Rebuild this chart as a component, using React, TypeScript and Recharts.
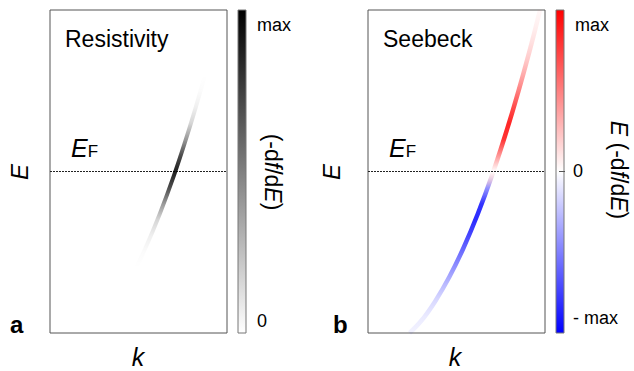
import { Bar, BarChart, Line, LineChart, ReferenceArea, ReferenceLine, XAxis, YAxis } from "recharts";

// band dispersion (k across the box 0..1, E from -1 to 1, E_F = 0)
const bandK = [0.235, 0.3, 0.38, 0.46, 0.54, 0.62, 0.7, 0.76, 0.82, 0.88, 0.94, 0.972];
const bandE = [-1.0, -0.926, -0.803, -0.652, -0.472, -0.263, -0.026, 0.172, 0.385, 0.614, 0.86, 1.0];

// energies where the shading along the band was sampled
const levelE = [-1, -0.9, -0.8, -0.7, -0.6, -0.5, -0.4, -0.3, -0.2, -0.1, 0, 0.1, 0.2, 0.3, 0.4, 0.5, 0.6, 0.7, 0.8, 0.9, 1];
// (-df/dE) weight, 0..1
const resistivityWeight = [0, 0, 0, 0, 0, 0.015, 0.06, 0.16, 0.4, 0.7, 0.88, 0.7, 0.4, 0.16, 0.06, 0.015, 0, 0, 0, 0, 0];
// E(-df/dE) weight, -1..1
const seebeckWeight = [-0.05, -0.08, -0.15, -0.27, -0.42, -0.57, -0.72, -0.83, -0.8, -0.42, 0, 0.42, 0.8, 0.85, 0.7, 0.5, 0.33, 0.2, 0.12, 0.06, 0.03];

const band = bandK.map((k, i) => ({ k, E: bandE[i] }));
const FONT = "'Liberation Sans', Arial, Helvetica, sans-serif";

// gradient runs top (high E) to bottom (low E), so stops go from the top level down
function bandStops(weights: number[], colorFor: (w: number) => string) {
  const eMax = Math.max(...bandE);
  const eMin = Math.min(...bandE);
  return levelE
    .map((e, i) => ({ e, w: weights[i] }))
    .reverse()
    .map(({ e, w }, i) => (
      <stop
        key={i}
        offset={(eMax - e) / (eMax - eMin)}
        stopColor={colorFor(w)}
        stopOpacity={Math.min(1, Math.abs(w))}
      />
    ));
}

function Panel({ left, id, weights, colorFor, width }: { left: number; id: string; weights: number[]; colorFor: (w: number) => string; width: number }) {
  return (
    <div style={{ position: "absolute", left, top: 0 }}>
      <LineChart width={240} height={343} data={band} margin={{ top: 10, right: 13, bottom: 10, left: 50 }}>
        <defs>
          <linearGradient id={id} x1="0" y1="0" x2="0" y2="1">
            {bandStops(weights, colorFor)}
          </linearGradient>
        </defs>
        <XAxis type="number" dataKey="k" domain={[0, 1]} hide />
        <YAxis type="number" domain={[-1, 1]} hide />
        <ReferenceArea x1={0} x2={1} y1={-1} y2={1} fill="none" stroke="#555" strokeWidth={1} />
        <ReferenceLine y={0} stroke="#222" strokeDasharray="2 1" />
        <Line
          dataKey="E"
          type="monotone"
          stroke={`url(#${id})`}
          strokeWidth={width}
          dot={false}
          activeDot={false}
          isAnimationActive={false}
        />
      </LineChart>
    </div>
  );
}

function ColorBar({ left, id, colors }: { left: number; id: string; colors: string[] }) {
  return (
    <div style={{ position: "absolute", left, top: 0 }}>
      <BarChart width={10} height={343} data={[{ v: 1 }]} margin={{ top: 10, right: 1, bottom: 10, left: 1 }} barCategoryGap={0}>
        <defs>
          <linearGradient id={id} x1="0" y1="0" x2="0" y2="1">
            {colors.map((c, i) => (
              <stop key={i} offset={i / (colors.length - 1)} stopColor={c} />
            ))}
          </linearGradient>
        </defs>
        <XAxis hide />
        <YAxis hide domain={[0, 1]} />
        <Bar dataKey="v" fill={`url(#${id})`} stroke="#777" strokeWidth={1} isAnimationActive={false} />
      </BarChart>
    </div>
  );
}

export default function App() {
  return (
    <div style={{ position: "absolute", left: 0, top: 0, width: 634, height: 371, background: "#fff" }}>
      <Panel left={0} id="bandA" width={4} weights={resistivityWeight} colorFor={() => "#000"} />
      <ColorBar left={237} id="cbarA" colors={["#000", "#fff"]} />
      <Panel left={318} id="bandB" width={4.5} weights={seebeckWeight} colorFor={(w) => (w >= 0 ? "#ff0000" : "#0000ff")} />
      <ColorBar left={555} id="cbarB" colors={["#ff0000", "#ffffff", "#0000ff"]} />

      <svg width={634} height={371} style={{ position: "absolute", left: 0, top: 0, pointerEvents: "none" }} fontFamily={FONT} fill="#000">
        <text x={65} y={47} fontSize={23}>Resistivity</text>
        <text x={383} y={47} fontSize={23}>Seebeck</text>

        {[71, 389].map((x) => (
          <text key={x} x={x} y={157} fontSize={25}>
            <tspan fontStyle="italic">E</tspan>
            <tspan fontSize={17}>F</tspan>
          </text>
        ))}

        <text transform="translate(28,172) rotate(-90)" textAnchor="middle" fontSize={24} fontStyle="italic">E</text>
        <text transform="translate(340,172) rotate(-90)" textAnchor="middle" fontSize={24} fontStyle="italic">E</text>

        <text x={138} y={366} textAnchor="middle" fontSize={25} fontStyle="italic">k</text>
        <text x={455} y={366} textAnchor="middle" fontSize={25} fontStyle="italic">k</text>

        <text x={10} y={333} fontSize={24} fontWeight="bold">a</text>
        <text x={333} y={333} fontSize={24} fontWeight="bold">b</text>

        <text x={257} y={31} fontSize={18}>max</text>
        <text x={257} y={327} fontSize={18}>0</text>
        <text x={575} y={31} fontSize={18}>max</text>
        <text x={573} y={177} fontSize={18}>0</text>
        <text x={573} y={324} fontSize={18}>- max</text>
        <line x1={559} x2={565} y1={171.5} y2={171.5} stroke="#555" />

        <text transform="translate(265,172) rotate(90)" textAnchor="middle" fontSize={23}>
          (-d<tspan fontStyle="italic">f</tspan>/d<tspan fontStyle="italic">E</tspan>)
        </text>
        <text transform="translate(611,170) rotate(90)" textAnchor="middle" fontSize={23}>
          <tspan fontStyle="italic">E</tspan> (-d<tspan fontStyle="italic">f</tspan>/d<tspan fontStyle="italic">E</tspan>)
        </text>
      </svg>
    </div>
  );
}
